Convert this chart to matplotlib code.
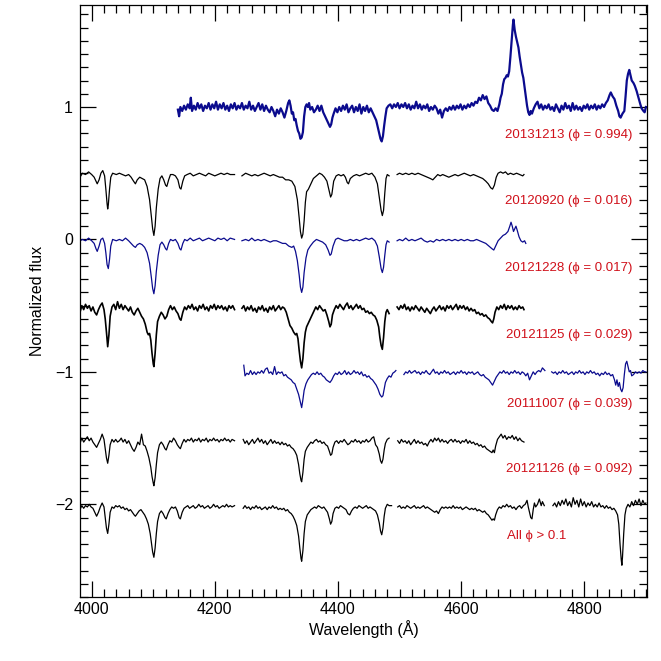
import matplotlib
matplotlib.use("Agg")
import matplotlib.pyplot as plt
from matplotlib.ticker import MultipleLocator

plt.rcParams['font.family'] = ['Liberation Sans', 'DejaVu Sans']

BLUE = '#0b0b8e'
RED = '#d0101a'

# ---- data: each spectrum is a list of segments of (wavelength, flux) pairs ----
s20131213 = [[
    (4140,0.98),(4142,0.93),(4144,1.00),(4147,0.97),(4150,1.01),(4153,0.98),(4156,1.02),(4159,0.99),(4161,1.07),(4163,0.97),
    (4166,1.01),(4169,0.98),(4172,1.03),(4175,0.99),(4178,1.02),(4181,0.97),(4184,1.01),(4187,0.99),(4190,1.03),(4193,0.98),
    (4196,1.02),(4199,0.99),(4202,1.04),(4205,0.98),(4208,1.02),(4211,0.99),(4214,1.03),(4217,0.98),(4220,1.01),(4223,0.97),
    (4226,1.02),(4229,0.99),(4232,1.03),(4235,0.98),(4238,1.01),(4241,0.99),(4244,1.03),(4247,0.98),(4250,1.01),(4253,0.99),
    (4256,1.04),(4259,0.98),(4262,1.01),(4265,0.97),(4268,1.00),(4271,1.03),(4274,0.98),(4277,1.02),(4280,0.97),(4283,1.01),
    (4286,0.98),(4289,0.96),(4292,1.00),(4295,0.97),(4298,0.93),(4301,0.98),(4304,0.95),(4307,0.99),(4310,0.96),(4313,0.92),
    (4316,0.97),(4319,1.03),(4321,1.05),(4323,1.01),(4325,0.95),(4327,0.96),(4329,0.90),(4331,0.91),(4333,0.86),(4335,0.82),
    (4337,0.80),(4339,0.76),(4341,0.77),(4343,0.81),(4345,0.93),(4347,1.00),(4349,1.02),(4351,1.00),(4353,1.03),(4355,0.98),
    (4358,1.00),(4361,0.96),(4364,0.98),(4367,1.01),(4370,0.97),(4373,1.01),(4376,0.96),(4379,0.93),(4382,0.90),(4385,0.87),
    (4387,0.85),(4389,0.87),(4391,0.92),(4393,0.95),(4396,0.99),(4399,0.96),(4402,1.00),(4405,0.97),(4408,1.01),(4411,0.98),
    (4414,1.02),(4417,0.96),(4420,0.99),(4423,1.01),(4426,0.96),(4429,1.00),(4432,0.97),(4435,1.02),(4438,0.95),(4441,1.00),
    (4444,0.97),(4447,1.01),(4450,0.96),(4453,0.99),(4456,0.96),(4459,0.93),(4462,0.90),(4465,0.84),(4467,0.80),(4469,0.76),
    (4471,0.74),(4473,0.78),(4475,0.86),(4477,0.93),(4479,0.99),(4482,1.01),(4485,1.02),(4488,0.99),(4491,1.02),(4494,1.00),
    (4497,1.03),(4500,0.99),(4503,1.02),(4506,1.00),(4509,1.03),(4512,0.99),(4515,1.02),(4518,0.98),(4521,1.01),(4524,0.99),
    (4527,1.04),(4530,0.99),(4533,1.02),(4536,0.98),(4539,1.01),(4542,0.99),(4545,1.02),(4548,0.97),(4551,1.00),(4554,0.98),
    (4557,1.01),(4560,0.99),(4563,0.95),(4566,0.98),(4569,0.92),(4572,0.97),(4575,0.99),(4578,0.97),(4581,1.00),(4584,0.98),
    (4587,1.01),(4590,0.98),(4593,1.01),(4596,0.99),(4599,1.02),(4602,0.98),(4605,1.01),(4608,0.99),(4611,1.02),(4614,1.00),
    (4617,1.03),(4620,1.01),(4623,1.04),(4626,1.03),(4629,1.07),(4632,1.05),(4635,1.09),(4638,1.06),(4641,1.08),(4644,1.03),
    (4647,1.01),(4650,0.98),(4653,0.97),(4656,0.99),(4659,0.97),(4662,1.02),(4664,1.07),(4666,1.10),(4668,1.17),(4670,1.21),
    (4672,1.22),(4674,1.24),(4676,1.23),(4678,1.27),(4680,1.38),(4682,1.50),(4684,1.62),(4685,1.66),(4687,1.58),(4689,1.53),
    (4691,1.49),(4693,1.45),(4695,1.38),(4697,1.32),(4699,1.26),(4701,1.22),(4703,1.15),(4705,1.08),(4707,1.01),(4709,0.96),
    (4711,0.94),(4713,0.97),(4715,0.95),(4718,0.99),(4721,1.02),(4724,1.04),(4727,0.99),(4730,1.02),(4733,0.98),(4736,1.01),
    (4739,0.99),(4742,1.02),(4745,0.98),(4748,1.00),(4751,0.97),(4754,1.02),(4757,0.99),(4760,0.96),(4763,1.01),(4766,0.98),
    (4769,1.03),(4772,0.99),(4775,1.01),(4778,0.97),(4781,1.03),(4784,0.98),(4787,1.01),(4790,0.98),(4793,1.00),(4796,0.97),
    (4799,1.01),(4802,0.99),(4805,1.02),(4808,0.98),(4811,1.01),(4814,0.99),(4817,1.02),(4820,0.98),(4823,1.01),(4826,0.99),
    (4829,1.02),(4832,1.00),(4835,1.03),(4838,1.05),(4841,1.09),(4843,1.11),(4846,1.08),(4849,1.06),(4852,1.01),(4855,0.97),
    (4857,0.93),(4859,0.92),(4862,0.95),(4865,0.97),(4867,1.08),(4869,1.20),(4871,1.25),(4873,1.28),(4875,1.24),(4877,1.20),
    (4880,1.18),(4882,1.16),(4885,1.12),(4888,1.07),(4891,1.02),(4893,0.99),(4896,0.97),(4898,0.96),(4900,1.00)]]

s20120920 = [[
    (3981,0.47),(3985,0.50),(3990,0.49),(3995,0.51),(4000,0.49),(4004,0.47),(4007,0.44),(4009,0.42),(4012,0.45),(4015,0.50),
    (4018,0.52),(4021,0.48),(4023,0.38),(4025,0.27),(4026,0.23),(4027,0.26),(4029,0.38),(4031,0.47),(4034,0.50),(4040,0.49),
    (4045,0.50),(4050,0.49),(4055,0.48),(4060,0.49),(4064,0.47),(4068,0.44),(4071,0.42),(4074,0.45),(4078,0.47),(4082,0.46),
    (4086,0.45),(4090,0.40),(4094,0.30),(4097,0.17),(4099,0.08),(4101,0.03),(4103,0.10),(4105,0.24),(4108,0.38),(4111,0.46),
    (4114,0.48),(4117,0.45),(4120,0.41),(4122,0.40),(4125,0.45),(4128,0.49),(4132,0.49),(4136,0.48),(4140,0.45),(4143,0.39),
    (4145,0.38),(4148,0.44),(4151,0.48),(4155,0.49),(4160,0.50),(4165,0.48),(4170,0.49),(4175,0.50),(4180,0.49),(4185,0.48),
    (4190,0.50),(4195,0.49),(4200,0.48),(4205,0.49),(4210,0.50),(4215,0.49),(4220,0.50),(4225,0.49),(4232,0.49)],
   [(4244,0.48),(4250,0.50),(4255,0.49),(4260,0.48),(4265,0.49),(4270,0.48),(4275,0.49),(4280,0.50),(4285,0.49),(4290,0.48),
    (4295,0.49),(4300,0.48),(4305,0.47),(4310,0.47),(4315,0.45),(4320,0.45),(4325,0.44),(4330,0.40),(4334,0.30),(4337,0.16),
    (4339,0.06),(4341,0.01),(4343,0.04),(4345,0.14),(4347,0.28),(4349,0.36),(4352,0.38),(4356,0.42),(4360,0.46),(4365,0.48),
    (4370,0.50),(4374,0.49),(4378,0.47),(4382,0.44),(4385,0.38),(4388,0.32),(4390,0.34),(4393,0.44),(4397,0.48),(4401,0.49),
    (4405,0.48),(4409,0.49),(4412,0.47),(4415,0.43),(4417,0.42),(4420,0.46),(4425,0.48),(4430,0.49),(4435,0.48),(4440,0.49),
    (4445,0.50),(4450,0.49),(4455,0.50),(4460,0.47),(4464,0.42),(4467,0.32),(4470,0.22),(4472,0.18),(4474,0.22),(4476,0.35),
    (4478,0.46),(4480,0.49),(4483,0.48)],
   [(4496,0.49),(4500,0.50),(4505,0.49),(4510,0.50),(4515,0.49),(4520,0.50),(4525,0.49),(4530,0.50),(4535,0.49),(4540,0.48),
    (4545,0.47),(4550,0.46),(4554,0.45),(4558,0.47),(4562,0.49),(4566,0.48),(4570,0.49),(4575,0.48),(4580,0.47),(4585,0.48),
    (4590,0.49),(4595,0.48),(4600,0.49),(4605,0.50),(4610,0.49),(4615,0.48),(4620,0.49),(4625,0.48),(4630,0.47),(4635,0.46),
    (4640,0.44),(4644,0.42),(4648,0.39),(4651,0.38),(4654,0.41),(4657,0.47),(4660,0.50),(4664,0.51),(4668,0.50),(4672,0.51),
    (4676,0.49),(4680,0.50),(4685,0.49),(4690,0.50),(4695,0.49),(4700,0.48),(4702,0.49)]]

s20121228 = [[
    (3981,-0.01),(3985,0.00),(3990,-0.01),(3995,0.01),(4000,-0.01),(4004,-0.03),(4007,-0.07),(4009,-0.09),(4012,-0.05),(4015,0.00),
    (4018,0.01),(4021,-0.03),(4023,-0.10),(4025,-0.19),(4027,-0.22),(4029,-0.15),(4031,-0.05),(4034,0.00),(4040,-0.01),(4045,0.00),
    (4050,-0.01),(4055,0.01),(4060,-0.01),(4064,-0.03),(4068,-0.05),(4071,-0.06),(4074,-0.04),(4078,-0.03),(4082,-0.04),(4086,-0.06),
    (4090,-0.10),(4094,-0.18),(4097,-0.29),(4099,-0.37),(4101,-0.41),(4103,-0.35),(4105,-0.24),(4108,-0.12),(4111,-0.04),(4114,-0.02),
    (4117,-0.04),(4120,-0.07),(4122,-0.08),(4125,-0.03),(4128,0.00),(4132,-0.01),(4136,0.00),(4140,-0.03),(4143,-0.07),(4145,-0.08),
    (4148,-0.03),(4151,0.00),(4155,-0.01),(4160,0.01),(4165,-0.01),(4170,0.00),(4175,0.01),(4180,-0.01),(4185,0.00),(4190,0.01),
    (4195,0.00),(4200,-0.01),(4205,0.01),(4210,0.00),(4215,0.01),(4220,-0.01),(4225,0.01),(4232,0.00)],
   [(4244,-0.01),(4250,0.00),(4255,-0.01),(4260,0.01),(4265,-0.01),(4270,0.00),(4275,-0.01),(4280,0.00),(4285,-0.01),(4290,-0.02),
    (4295,-0.01),(4300,-0.01),(4305,-0.02),(4310,-0.03),(4315,-0.03),(4320,-0.05),(4325,-0.06),(4328,-0.05),(4331,-0.09),(4334,-0.16),
    (4337,-0.27),(4339,-0.36),(4341,-0.40),(4343,-0.36),(4345,-0.25),(4348,-0.14),(4351,-0.08),(4355,-0.05),(4360,-0.02),(4365,0.00),
    (4370,-0.01),(4375,-0.02),(4380,-0.04),(4384,-0.08),(4387,-0.12),(4389,-0.11),(4392,-0.05),(4396,0.00),(4400,0.01),(4405,0.00),
    (4410,-0.01),(4415,-0.01),(4420,0.00),(4425,-0.01),(4430,0.00),(4435,-0.01),(4440,0.00),(4445,0.01),(4450,0.00),(4455,0.01),
    (4460,-0.01),(4464,-0.05),(4467,-0.13),(4470,-0.22),(4472,-0.25),(4474,-0.21),(4476,-0.12),(4478,-0.04),(4480,-0.01),(4483,-0.02)],
   [(4496,-0.01),(4500,0.00),(4505,-0.01),(4510,0.01),(4515,-0.01),(4520,0.00),(4525,-0.01),(4530,0.00),(4535,0.01),(4540,-0.01),
    (4545,-0.02),(4550,-0.01),(4555,-0.02),(4560,0.00),(4565,-0.01),(4570,0.00),(4575,-0.01),(4580,0.00),(4585,-0.01),(4590,0.00),
    (4595,-0.01),(4600,0.00),(4605,-0.01),(4610,0.00),(4615,-0.01),(4620,-0.01),(4625,0.00),(4630,-0.01),(4635,-0.02),(4640,-0.03),
    (4645,-0.05),(4650,-0.07),(4653,-0.08),(4656,-0.05),(4660,-0.01),(4664,0.01),(4668,0.03),(4672,0.04),(4676,0.06),(4679,0.10),
    (4681,0.13),(4683,0.10),(4685,0.06),(4687,0.08),(4689,0.10),(4691,0.07),(4694,0.02),(4697,-0.01),(4700,-0.02),(4703,-0.01),
    (4705,-0.03)]]

s20121125 = [[
    (3981,-0.55),(3984,-0.50),(3987,-0.53),(3990,-0.49),(3993,-0.52),(3996,-0.50),(3999,-0.54),(4002,-0.51),(4005,-0.55),(4008,-0.57),
    (4011,-0.53),(4014,-0.50),(4017,-0.48),(4020,-0.53),(4022,-0.60),(4024,-0.70),(4026,-0.81),(4028,-0.72),(4030,-0.58),(4033,-0.51),
    (4036,-0.49),(4039,-0.53),(4042,-0.47),(4045,-0.52),(4048,-0.49),(4051,-0.53),(4054,-0.50),(4057,-0.52),(4060,-0.54),(4063,-0.51),
    (4066,-0.55),(4069,-0.57),(4072,-0.54),(4075,-0.52),(4078,-0.55),(4081,-0.58),(4084,-0.60),(4087,-0.64),(4090,-0.70),(4092,-0.72),
    (4094,-0.71),(4096,-0.76),(4098,-0.86),(4100,-0.94),(4101,-0.96),(4103,-0.86),(4105,-0.72),(4107,-0.62),(4110,-0.58),(4113,-0.55),
    (4116,-0.57),(4119,-0.60),(4122,-0.58),(4125,-0.53),(4128,-0.50),(4131,-0.53),(4134,-0.51),(4137,-0.54),(4140,-0.56),(4143,-0.60),
    (4145,-0.61),(4148,-0.55),(4151,-0.51),(4154,-0.53),(4157,-0.50),(4160,-0.52),(4163,-0.49),(4166,-0.53),(4169,-0.51),(4172,-0.54),
    (4175,-0.50),(4178,-0.52),(4181,-0.49),(4184,-0.53),(4187,-0.51),(4190,-0.54),(4193,-0.50),(4196,-0.52),(4199,-0.49),(4202,-0.53),
    (4205,-0.50),(4208,-0.52),(4211,-0.50),(4214,-0.53),(4217,-0.51),(4220,-0.54),(4223,-0.50),(4226,-0.52),(4229,-0.50),(4232,-0.53)],
   [(4244,-0.52),(4247,-0.50),(4250,-0.54),(4253,-0.51),(4256,-0.53),(4259,-0.50),(4262,-0.54),(4265,-0.52),(4268,-0.55),(4271,-0.51),
    (4274,-0.53),(4277,-0.50),(4280,-0.54),(4283,-0.52),(4286,-0.55),(4289,-0.51),(4292,-0.53),(4295,-0.50),(4298,-0.54),(4301,-0.52),
    (4304,-0.50),(4307,-0.53),(4310,-0.51),(4313,-0.52),(4316,-0.55),(4319,-0.60),(4322,-0.65),(4325,-0.67),(4328,-0.70),(4331,-0.72),
    (4333,-0.71),(4335,-0.75),(4337,-0.84),(4339,-0.92),(4341,-0.97),(4343,-0.90),(4345,-0.78),(4347,-0.70),(4349,-0.66),(4352,-0.63),
    (4355,-0.60),(4358,-0.57),(4361,-0.54),(4364,-0.51),(4367,-0.53),(4370,-0.50),(4373,-0.52),(4376,-0.54),(4379,-0.53),(4382,-0.57),
    (4385,-0.62),(4387,-0.66),(4389,-0.64),(4391,-0.57),(4394,-0.53),(4397,-0.50),(4400,-0.52),(4403,-0.49),(4406,-0.51),(4409,-0.53),
    (4412,-0.50),(4415,-0.48),(4418,-0.52),(4421,-0.50),(4424,-0.53),(4427,-0.51),(4430,-0.49),(4433,-0.52),(4436,-0.50),(4439,-0.53),
    (4442,-0.52),(4445,-0.55),(4448,-0.54),(4451,-0.56),(4454,-0.55),(4457,-0.57),(4460,-0.58),(4463,-0.61),(4466,-0.66),(4468,-0.74),
    (4470,-0.80),(4472,-0.83),(4474,-0.74),(4476,-0.62),(4478,-0.55),(4480,-0.53),(4483,-0.56)],
   [(4496,-0.51),(4499,-0.53),(4502,-0.50),(4505,-0.52),(4508,-0.49),(4511,-0.53),(4514,-0.51),(4517,-0.54),(4520,-0.51),(4523,-0.53),
    (4526,-0.50),(4529,-0.52),(4532,-0.54),(4535,-0.51),(4538,-0.53),(4541,-0.55),(4544,-0.52),(4547,-0.54),(4550,-0.56),(4553,-0.53),
    (4556,-0.51),(4559,-0.54),(4562,-0.52),(4565,-0.50),(4568,-0.53),(4571,-0.51),(4574,-0.54),(4577,-0.50),(4580,-0.52),(4583,-0.50),
    (4586,-0.53),(4589,-0.51),(4592,-0.49),(4595,-0.53),(4598,-0.50),(4601,-0.52),(4604,-0.50),(4607,-0.53),(4610,-0.51),(4613,-0.54),
    (4616,-0.52),(4619,-0.54),(4622,-0.53),(4625,-0.56),(4628,-0.55),(4631,-0.57),(4634,-0.56),(4637,-0.58),(4640,-0.57),(4643,-0.59),
    (4646,-0.60),(4649,-0.62),(4651,-0.63),(4653,-0.60),(4655,-0.55),(4658,-0.51),(4661,-0.53),(4664,-0.50),(4667,-0.52),(4670,-0.49),
    (4673,-0.53),(4676,-0.50),(4679,-0.52),(4682,-0.50),(4685,-0.53),(4688,-0.51),(4691,-0.53),(4694,-0.50),(4697,-0.52),(4700,-0.51),
    (4702,-0.53)]]

s20111007 = [[
    (4247,-0.95),(4249,-1.03),(4252,-1.01),(4255,-1.02),(4258,-0.99),(4261,-1.02),(4264,-1.00),(4267,-1.02),(4270,-1.00),(4273,-1.01),
    (4276,-0.99),(4279,-1.01),(4282,-0.98),(4285,-0.97),(4288,-1.01),(4291,-1.00),(4294,-1.02),(4297,-0.96),(4300,-1.02),(4303,-1.00),
    (4306,-1.01),(4309,-1.00),(4312,-1.03),(4315,-1.02),(4318,-1.04),(4321,-1.05),(4324,-1.06),(4327,-1.08),(4330,-1.09),(4333,-1.13),
    (4336,-1.17),(4339,-1.23),(4341,-1.27),(4343,-1.21),(4345,-1.14),(4348,-1.09),(4351,-1.06),(4354,-1.04),(4357,-1.02),(4360,-1.01),
    (4363,-1.02),(4366,-1.00),(4369,-1.02),(4372,-1.01),(4375,-1.03),(4378,-1.04),(4381,-1.06),(4384,-1.07),(4387,-1.08),(4390,-1.06),
    (4393,-1.03),(4396,-1.01),(4399,-1.02),(4402,-1.00),(4405,-1.02),(4408,-1.01),(4411,-0.99),(4414,-1.02),(4417,-1.00),(4420,-1.02),
    (4423,-1.01),(4426,-0.99),(4429,-1.01),(4432,-1.00),(4435,-1.02),(4438,-1.00),(4441,-1.03),(4444,-1.02),(4447,-1.04),(4450,-1.03),
    (4453,-1.05),(4456,-1.06),(4459,-1.08),(4462,-1.10),(4465,-1.13),(4468,-1.17),(4471,-1.19),(4473,-1.18),(4475,-1.13),(4477,-1.08),
    (4480,-1.05),(4483,-1.03),(4486,-1.04),(4489,-1.01),(4492,-1.00),(4494,-0.99)],
   [(4507,-1.02),(4510,-1.00),(4513,-1.01),(4516,-0.99),(4519,-1.01),(4522,-1.00),(4525,-0.99),(4528,-1.01),(4531,-1.00),(4534,-1.02),
    (4537,-1.00),(4540,-1.01),(4543,-0.99),(4546,-1.01),(4549,-1.02),(4552,-1.00),(4555,-0.98),(4558,-1.01),(4561,-1.00),(4564,-1.02),
    (4567,-1.00),(4570,-1.01),(4573,-0.99),(4576,-1.01),(4579,-1.00),(4582,-1.02),(4585,-1.01),(4588,-1.00),(4591,-1.02),(4594,-1.00),
    (4597,-1.01),(4600,-0.99),(4603,-1.01),(4606,-1.00),(4609,-1.02),(4612,-1.00),(4615,-1.01),(4618,-1.00),(4621,-1.02),(4624,-1.01),
    (4627,-1.00),(4630,-1.02),(4633,-1.03),(4636,-1.02),(4639,-1.04),(4642,-1.05),(4645,-1.06),(4648,-1.08),(4651,-1.10),(4654,-1.07),
    (4657,-1.04),(4660,-1.02),(4663,-1.00),(4666,-1.01),(4669,-0.99),(4672,-1.01),(4675,-1.00),(4678,-1.02),(4681,-1.00),(4684,-1.01),
    (4687,-0.99),(4690,-1.01),(4693,-1.00),(4696,-1.02),(4699,-1.00),(4702,-1.01),(4705,-1.03),(4708,-1.01),(4711,-1.06),(4714,-1.03),
    (4717,-1.00),(4720,-1.02),(4723,-1.00),(4726,-0.99),(4729,-1.00),(4732,-0.97),(4736,-0.99)],
   [(4747,-1.00),(4750,-1.01),(4753,-1.00),(4756,-1.02),(4759,-1.00),(4762,-1.01),(4765,-0.99),(4768,-1.01),(4771,-1.00),(4774,-1.02),
    (4777,-1.01),(4780,-1.00),(4783,-1.02),(4786,-1.00),(4789,-1.01),(4792,-0.99),(4795,-1.01),(4798,-1.00),(4801,-1.02),(4804,-1.00),
    (4807,-1.01),(4810,-0.99),(4813,-1.01),(4816,-1.00),(4819,-1.02),(4822,-1.01),(4825,-1.03),(4828,-1.01),(4831,-1.02),(4834,-1.00),
    (4837,-1.02),(4840,-1.01),(4843,-1.03),(4846,-1.02),(4849,-1.06),(4851,-1.10),(4853,-1.06),(4855,-1.11),(4857,-1.08),(4859,-1.13),
    (4861,-1.15),(4863,-1.12),(4865,-1.02),(4867,-0.94),(4869,-0.92),(4871,-0.96),(4873,-1.00),(4875,-0.99),(4877,-1.03),(4880,-1.02),
    (4883,-1.00),(4886,-1.01),(4889,-1.00),(4892,-1.01),(4895,-0.99),(4898,-1.00),(4900,-1.00)]]

s20121126 = [[
    (3981,-1.54),(3984,-1.50),(3987,-1.53),(3990,-1.51),(3993,-1.49),(3996,-1.52),(3999,-1.50),(4002,-1.53),(4005,-1.55),(4008,-1.57),
    (4011,-1.54),(4014,-1.51),(4017,-1.47),(4020,-1.51),(4022,-1.58),(4024,-1.65),(4026,-1.69),(4028,-1.63),(4030,-1.55),(4033,-1.51),
    (4036,-1.53),(4039,-1.51),(4042,-1.53),(4045,-1.52),(4048,-1.50),(4051,-1.53),(4054,-1.51),(4057,-1.54),(4060,-1.52),(4063,-1.55),
    (4066,-1.58),(4069,-1.60),(4072,-1.57),(4075,-1.53),(4078,-1.55),(4081,-1.47),(4084,-1.55),(4087,-1.56),(4090,-1.60),(4093,-1.65),
    (4096,-1.72),(4098,-1.79),(4100,-1.84),(4101,-1.86),(4103,-1.80),(4105,-1.70),(4107,-1.61),(4110,-1.55),(4113,-1.53),(4116,-1.55),
    (4119,-1.58),(4121,-1.59),(4124,-1.55),(4127,-1.52),(4130,-1.53),(4133,-1.50),(4136,-1.52),(4139,-1.55),(4142,-1.57),(4144,-1.58),
    (4147,-1.54),(4150,-1.51),(4153,-1.53),(4156,-1.51),(4159,-1.52),(4162,-1.50),(4165,-1.53),(4168,-1.51),(4171,-1.52),(4174,-1.50),
    (4177,-1.53),(4180,-1.51),(4183,-1.52),(4186,-1.50),(4189,-1.53),(4192,-1.51),(4195,-1.52),(4198,-1.50),(4201,-1.52),(4204,-1.51),
    (4207,-1.53),(4210,-1.51),(4213,-1.52),(4216,-1.50),(4219,-1.52),(4222,-1.51),(4225,-1.53),(4228,-1.51),(4232,-1.52)],
   [(4246,-1.51),(4249,-1.54),(4252,-1.52),(4255,-1.55),(4258,-1.53),(4261,-1.51),(4264,-1.54),(4267,-1.52),(4270,-1.50),(4273,-1.53),
    (4276,-1.51),(4279,-1.54),(4282,-1.52),(4285,-1.55),(4288,-1.53),(4291,-1.51),(4294,-1.54),(4297,-1.52),(4300,-1.54),(4303,-1.53),
    (4306,-1.55),(4309,-1.53),(4312,-1.55),(4315,-1.54),(4318,-1.56),(4321,-1.55),(4324,-1.57),(4327,-1.58),(4330,-1.60),(4333,-1.63),
    (4336,-1.70),(4338,-1.77),(4340,-1.82),(4341,-1.83),(4343,-1.76),(4345,-1.66),(4347,-1.60),(4350,-1.57),(4353,-1.55),(4356,-1.53),
    (4359,-1.54),(4362,-1.52),(4365,-1.51),(4368,-1.53),(4371,-1.52),(4374,-1.54),(4377,-1.53),(4380,-1.55),(4383,-1.56),(4386,-1.60),
    (4388,-1.63),(4390,-1.62),(4392,-1.57),(4395,-1.53),(4398,-1.52),(4401,-1.54),(4404,-1.52),(4407,-1.53),(4410,-1.51),(4413,-1.53),
    (4416,-1.55),(4419,-1.54),(4422,-1.52),(4425,-1.53),(4428,-1.51),(4431,-1.53),(4434,-1.52),(4437,-1.54),(4440,-1.52),(4443,-1.53),
    (4446,-1.51),(4449,-1.53),(4452,-1.52),(4455,-1.50),(4458,-1.49),(4461,-1.55),(4464,-1.57),(4467,-1.62),(4469,-1.67),(4471,-1.69),
    (4473,-1.66),(4475,-1.59),(4477,-1.54),(4480,-1.51),(4483,-1.50)],
   [(4497,-1.52),(4500,-1.54),(4503,-1.51),(4506,-1.53),(4509,-1.52),(4512,-1.54),(4515,-1.52),(4518,-1.55),(4521,-1.53),(4524,-1.51),
    (4527,-1.54),(4530,-1.52),(4533,-1.54),(4536,-1.53),(4539,-1.55),(4542,-1.54),(4545,-1.56),(4548,-1.53),(4551,-1.51),(4554,-1.53),
    (4557,-1.50),(4560,-1.52),(4563,-1.50),(4566,-1.53),(4569,-1.51),(4572,-1.53),(4575,-1.52),(4578,-1.54),(4581,-1.52),(4584,-1.51),
    (4587,-1.53),(4590,-1.51),(4593,-1.53),(4596,-1.52),(4599,-1.54),(4602,-1.52),(4605,-1.53),(4608,-1.51),(4611,-1.54),(4614,-1.52),
    (4617,-1.54),(4620,-1.53),(4623,-1.55),(4626,-1.54),(4629,-1.56),(4632,-1.55),(4635,-1.57),(4638,-1.56),(4641,-1.58),(4644,-1.59),
    (4647,-1.60),(4650,-1.61),(4652,-1.59),(4654,-1.61),(4656,-1.56),(4659,-1.51),(4662,-1.49),(4665,-1.47),(4668,-1.50),(4671,-1.48),
    (4674,-1.51),(4677,-1.49),(4680,-1.50),(4683,-1.48),(4686,-1.51),(4689,-1.49),(4692,-1.52),(4695,-1.50),(4698,-1.52),(4702,-1.53)]]

s_all = [[
    (3981,-2.04),(3984,-2.01),(3987,-2.03),(3990,-2.01),(3993,-2.02),(3996,-2.00),(3999,-2.02),(4002,-2.03),(4005,-2.06),(4008,-2.09),
    (4011,-2.06),(4014,-2.02),(4017,-1.99),(4020,-2.02),(4022,-2.10),(4024,-2.18),(4026,-2.22),(4028,-2.15),(4030,-2.06),(4033,-2.02),
    (4036,-2.03),(4039,-2.01),(4042,-2.02),(4045,-2.01),(4048,-2.03),(4051,-2.02),(4054,-2.04),(4057,-2.03),(4060,-2.05),(4063,-2.04),
    (4066,-2.06),(4069,-2.08),(4071,-2.09),(4074,-2.07),(4077,-2.05),(4080,-2.04),(4083,-2.06),(4086,-2.08),(4089,-2.11),(4092,-2.15),
    (4095,-2.22),(4097,-2.29),(4099,-2.36),(4101,-2.40),(4103,-2.33),(4105,-2.22),(4107,-2.13),(4110,-2.07),(4113,-2.05),(4116,-2.07),
    (4119,-2.10),(4121,-2.11),(4124,-2.07),(4127,-2.04),(4130,-2.02),(4133,-2.03),(4136,-2.02),(4139,-2.05),(4142,-2.10),(4144,-2.11),
    (4147,-2.06),(4150,-2.03),(4153,-2.02),(4156,-2.01),(4159,-2.03),(4162,-2.02),(4165,-2.01),(4168,-2.03),(4171,-2.02),(4174,-2.00),
    (4177,-2.02),(4180,-2.01),(4183,-2.03),(4186,-2.02),(4189,-2.01),(4192,-2.03),(4195,-2.02),(4198,-2.00),(4201,-2.02),(4204,-2.01),
    (4207,-2.03),(4210,-2.02),(4213,-2.01),(4216,-2.02),(4219,-2.00),(4222,-2.02),(4225,-2.01),(4228,-2.02),(4232,-2.01)],
   [(4246,-2.03),(4249,-2.01),(4252,-2.03),(4255,-2.02),(4258,-2.04),(4261,-2.02),(4264,-2.03),(4267,-2.01),(4270,-2.03),(4273,-2.02),
    (4276,-2.04),(4279,-2.03),(4282,-2.02),(4285,-2.04),(4288,-2.02),(4291,-2.03),(4294,-2.01),(4297,-2.03),(4300,-2.02),(4303,-2.04),
    (4306,-2.03),(4309,-2.04),(4312,-2.03),(4315,-2.05),(4318,-2.04),(4321,-2.06),(4324,-2.07),(4327,-2.09),(4330,-2.12),(4333,-2.16),
    (4336,-2.24),(4338,-2.33),(4340,-2.41),(4341,-2.43),(4343,-2.35),(4345,-2.22),(4347,-2.13),(4350,-2.08),(4353,-2.06),(4356,-2.04),
    (4359,-2.03),(4362,-2.02),(4365,-2.03),(4368,-2.01),(4371,-2.02),(4374,-2.03),(4377,-2.02),(4380,-2.04),(4383,-2.06),(4386,-2.11),
    (4388,-2.15),(4390,-2.13),(4392,-2.07),(4395,-2.03),(4398,-2.02),(4401,-2.03),(4404,-2.01),(4407,-2.02),(4410,-2.03),(4413,-2.04),
    (4416,-2.07),(4419,-2.08),(4422,-2.05),(4425,-2.03),(4428,-2.02),(4431,-2.03),(4434,-2.01),(4437,-2.02),(4440,-2.03),(4443,-2.02),
    (4446,-2.01),(4449,-2.03),(4452,-2.02),(4455,-2.03),(4458,-2.04),(4461,-2.05),(4464,-2.08),(4467,-2.14),(4469,-2.20),(4471,-2.23),
    (4473,-2.18),(4475,-2.09),(4477,-2.03),(4480,-2.00),(4483,-2.01),(4487,-2.01)],
   [(4497,-2.02),(4500,-2.01),(4503,-2.03),(4506,-2.02),(4509,-2.03),(4512,-2.01),(4515,-2.02),(4518,-2.03),(4521,-2.02),(4524,-2.01),
    (4527,-2.03),(4530,-2.02),(4533,-2.03),(4536,-2.02),(4539,-2.01),(4542,-2.03),(4545,-2.02),(4548,-2.03),(4551,-2.04),(4554,-2.05),
    (4557,-2.06),(4560,-2.05),(4563,-2.07),(4566,-2.04),(4569,-2.02),(4572,-2.03),(4575,-2.02),(4578,-2.03),(4581,-2.02),(4584,-2.03),
    (4587,-2.01),(4590,-2.03),(4593,-2.02),(4596,-2.03),(4599,-2.02),(4602,-2.04),(4605,-2.03),(4608,-2.02),(4611,-2.03),(4614,-2.04),
    (4617,-2.03),(4620,-2.04),(4623,-2.03),(4626,-2.05),(4629,-2.04),(4632,-2.05),(4635,-2.06),(4638,-2.05),(4641,-2.07),(4644,-2.08),
    (4647,-2.10),(4650,-2.12),(4652,-2.11),(4654,-2.12),(4656,-2.08),(4659,-2.04),(4662,-2.02),(4665,-2.03),(4668,-2.01),(4671,-2.02),
    (4674,-2.00),(4677,-2.02),(4680,-2.01),(4683,-2.03),(4686,-2.02),(4689,-2.04),(4692,-2.02),(4695,-2.01),(4698,-2.03),(4701,-2.01),
    (4704,-2.00),(4707,-1.97),(4709,-2.02),(4711,-2.06),(4713,-2.10),(4715,-2.11),(4717,-2.04),(4719,-1.99),(4721,-2.02),(4724,-2.00),
    (4727,-1.96),(4730,-2.01),(4732,-1.98),(4735,-2.01)],
   [(4749,-2.01),(4752,-1.99),(4755,-2.02),(4758,-1.98),(4761,-2.01),(4764,-1.97),(4767,-2.00),(4770,-1.96),(4773,-2.01),(4776,-1.98),
    (4779,-2.02),(4782,-1.95),(4785,-2.00),(4788,-1.97),(4791,-2.02),(4794,-1.96),(4797,-2.01),(4800,-1.98),(4803,-2.02),(4806,-1.99),
    (4809,-2.01),(4812,-1.98),(4815,-2.02),(4818,-2.00),(4821,-2.02),(4824,-1.99),(4827,-2.02),(4830,-2.01),(4833,-2.03),(4836,-2.01),
    (4839,-2.03),(4842,-2.02),(4845,-2.04),(4848,-2.03),(4851,-2.05),(4854,-2.08),(4856,-2.15),(4858,-2.30),(4860,-2.42),(4861,-2.46),
    (4862,-2.40),(4864,-2.22),(4866,-2.08),(4868,-2.03),(4871,-2.00),(4874,-2.02),(4877,-1.98),(4880,-2.01),(4883,-1.97),(4886,-2.00),
    (4889,-1.96),(4892,-2.01),(4895,-1.97),(4898,-2.00),(4900,-1.99)]]

spectra = [s20131213, s20120920, s20121228, s20121125, s20111007, s20121126, s_all]
colors = [BLUE, 'black', BLUE, 'black', BLUE, 'black', 'black']
widths = [1.6, 0.9, 0.9, 1.2, 0.9, 0.9, 0.9]
labels = ['20131213 (ϕ = 0.994)', '20120920 (ϕ = 0.016)', '20121228 (ϕ = 0.017)',
          '20121125 (ϕ = 0.029)', '20111007 (ϕ = 0.039)', '20121126 (ϕ = 0.092)', 'All ϕ > 0.1']
label_y = [0.785, 0.29, -0.215, -0.72, -1.24, -1.73, -2.24]

fig = plt.figure(figsize=(6.61, 6.61), dpi=100)
ax = fig.add_axes([0.121, 0.0968, 0.858, 0.8956])

for spec, c, lw in zip(spectra, colors, widths):
    for seg in spec:
        w = [p[0] for p in seg]
        f = [p[1] for p in seg]
        ax.plot(w, f, color=c, lw=lw, solid_joinstyle='round')

for i, (lab, y) in enumerate(zip(labels, label_y)):
    if i == len(labels) - 1:
        ax.text(4675, y, lab, color=RED, fontsize=9.5, ha='left', va='center')
    else:
        ax.text(4878, y, lab, color=RED, fontsize=9.5, ha='right', va='center')

ax.set_xlim(3981, 4902)
ax.set_ylim(-2.7, 1.77)
ax.xaxis.set_major_locator(MultipleLocator(200))
ax.xaxis.set_minor_locator(MultipleLocator(20))
ax.yaxis.set_major_locator(MultipleLocator(1))
ax.yaxis.set_minor_locator(MultipleLocator(0.1))
ax.tick_params(which='both', direction='in', top=True, right=True, labelsize=11.5, width=0.9)
ax.tick_params(which='major', length=11.5)
ax.tick_params(which='minor', length=6)
ax.tick_params(axis='y', which='major', pad=5)
for sp in ax.spines.values():
    sp.set_linewidth(0.9)
ax.set_xlabel('Wavelength (Å)', fontsize=11.5, labelpad=2)
ax.set_ylabel('Normalized flux', fontsize=11.5, labelpad=7)

fig.savefig('out.png', dpi=100)
